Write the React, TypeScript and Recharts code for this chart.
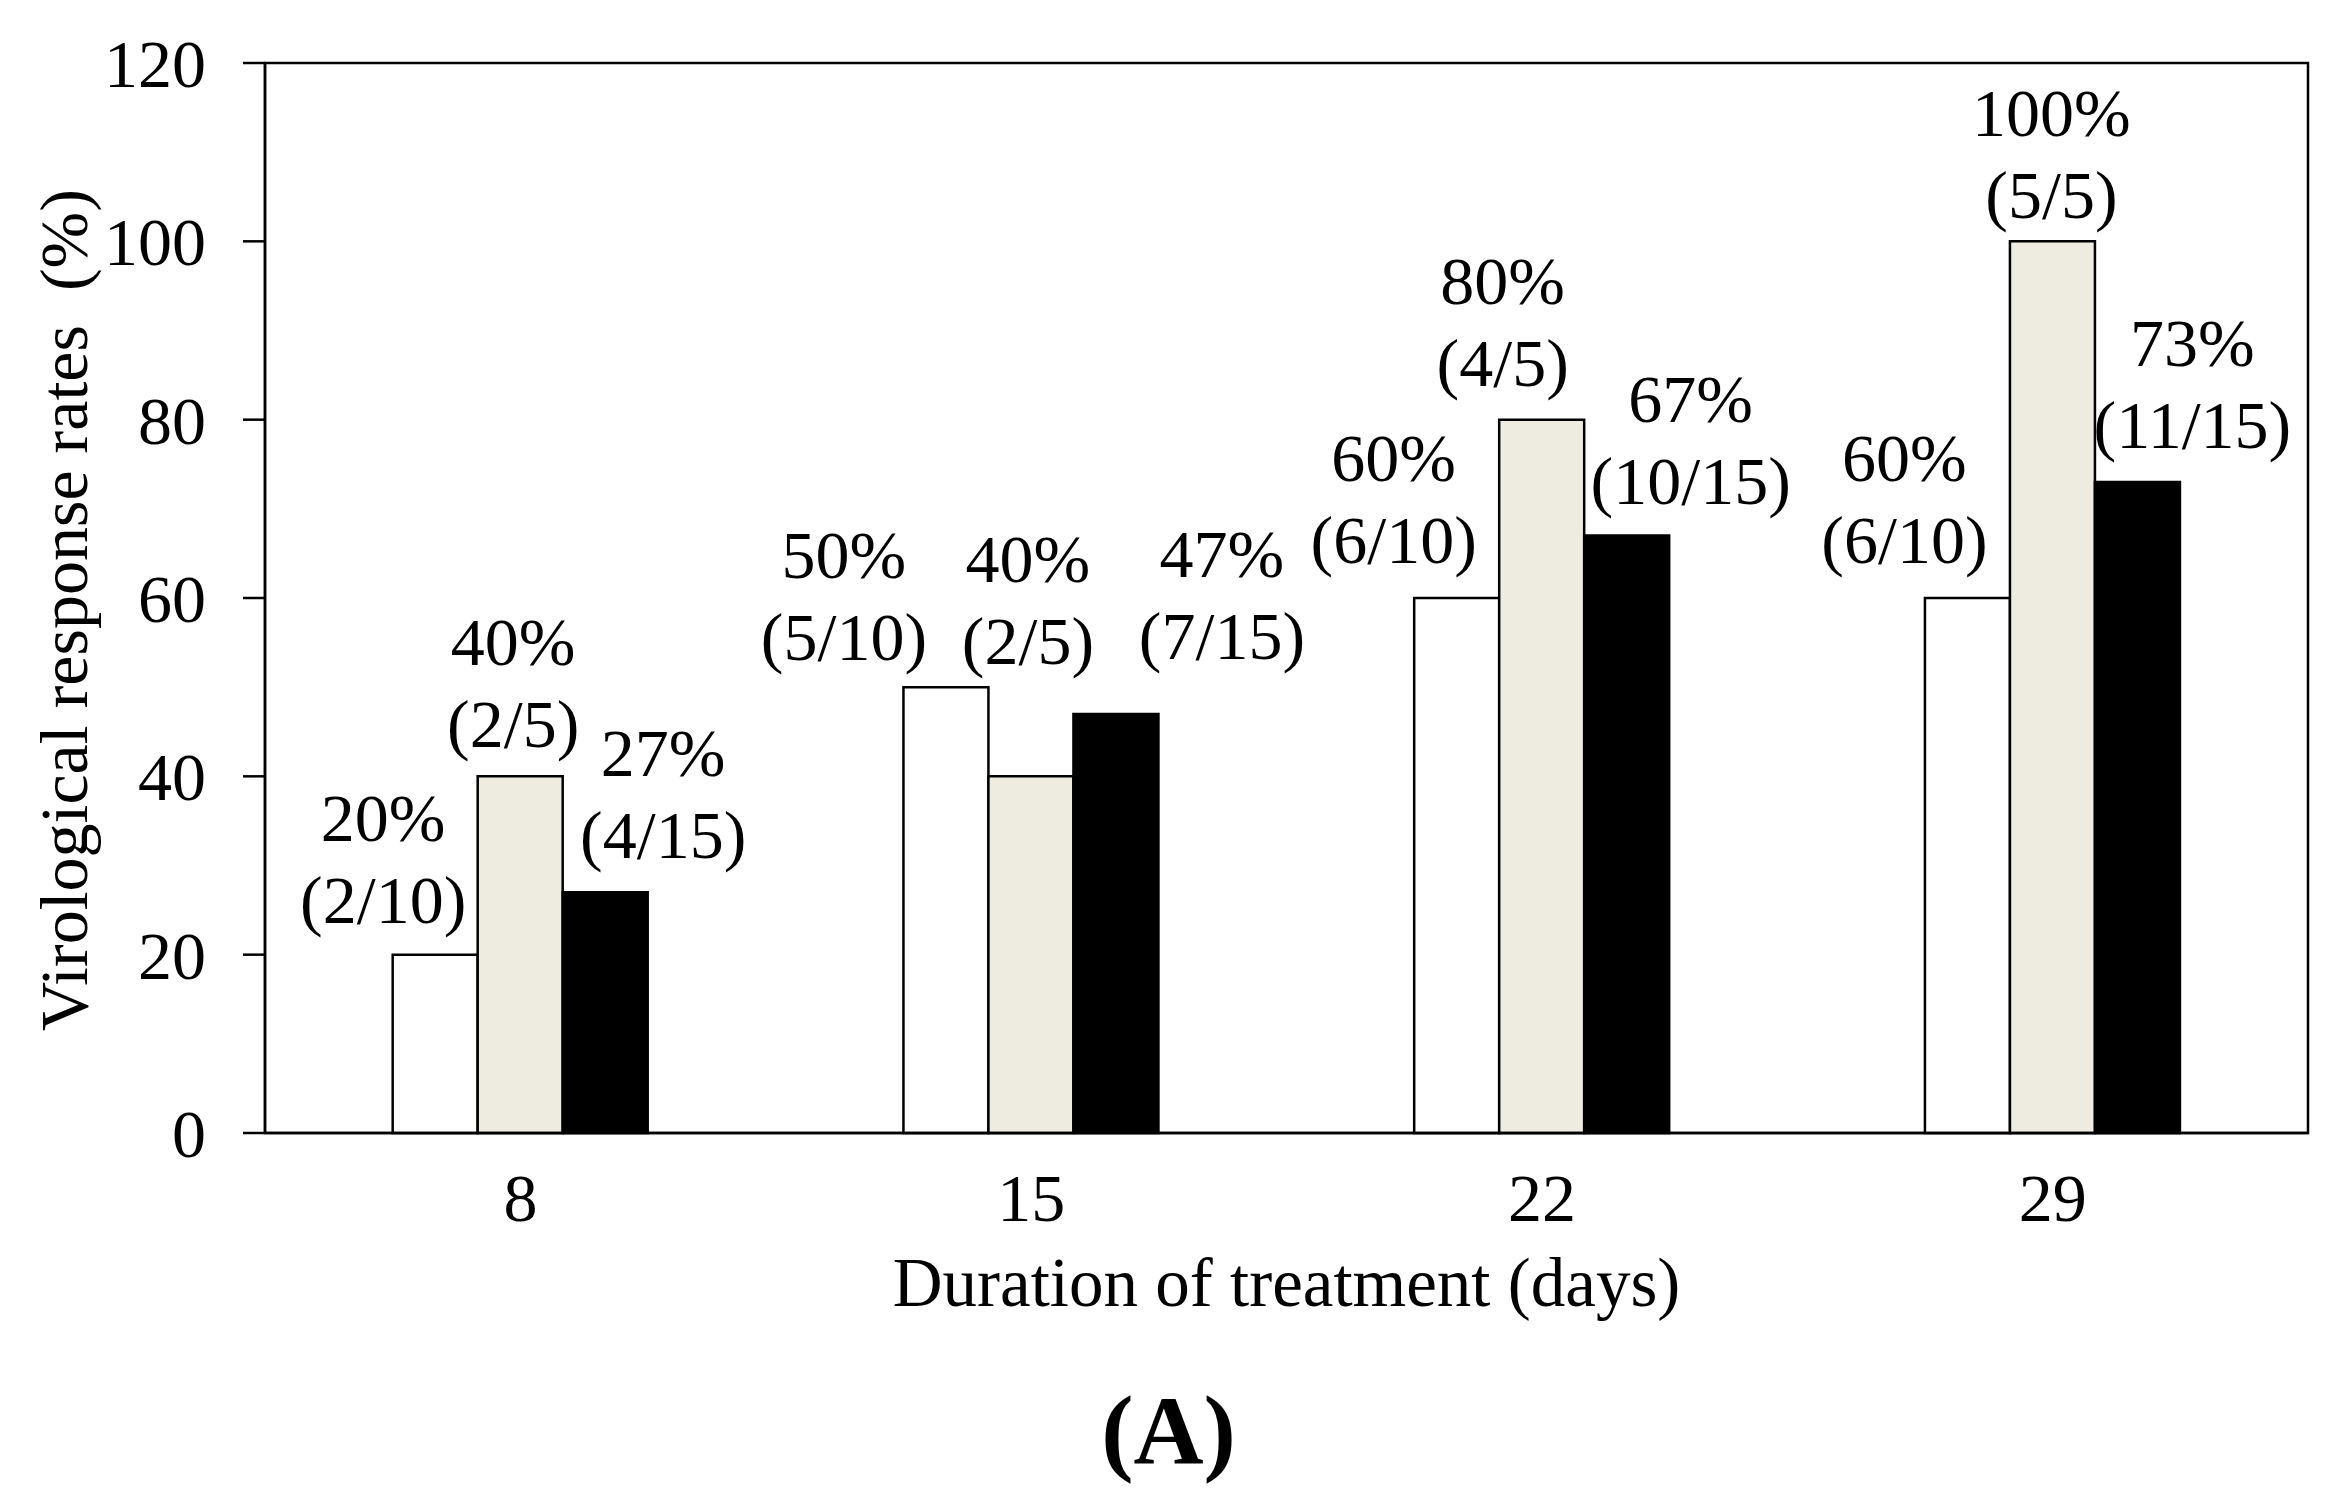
import React from 'react'
import { BarChart, Bar, XAxis, YAxis, LabelList, ReferenceArea } from 'recharts'

// Virological response rate by treatment duration, three groups per day.
const DAYS = ['8', '15', '22', '29']
const WHITE_RATES = [20, 50, 60, 60]
const BEIGE_RATES = [40, 40, 80, 100]
const BLACK_RATES = [27, 47, 67, 73]

const WHITE_PCT = ['20%', '50%', '60%', '60%']
const WHITE_FRAC = ['(2/10)', '(5/10)', '(6/10)', '(6/10)']
const BEIGE_PCT = ['40%', '40%', '80%', '100%']
const BEIGE_FRAC = ['(2/5)', '(2/5)', '(4/5)', '(5/5)']
const BLACK_PCT = ['27%', '47%', '67%', '73%']
const BLACK_FRAC = ['(4/15)', '(7/15)', '(10/15)', '(11/15)']

const Y_TICKS = [0, 20, 40, 60, 80, 100, 120]

const FONT = '"Liberation Serif", "Times New Roman", serif'

// label nudges (px) relative to the top centre of each bar, like the hand-placed Excel labels
const LABEL_DX = [
  [-52, -102, -63, -63],
  [-7, -3, -39, -1],
  [58, 106, 64, 55],
]
const LABEL_LIFT = [
  [55, 50, 58, 58],
  [52, 135, 57, 46],
  [57, 78, 55, 57],
]

const data = DAYS.map((d, i) => ({
  day: d,
  white: WHITE_RATES[i],
  beige: BEIGE_RATES[i],
  black: BLACK_RATES[i],
}))

const makeLabel = (series: number, pct: string[], frac: string[]) => (props: any) => {
  const { x, y, width, index } = props
  const cx = Number(x) + Number(width) / 2 + LABEL_DX[series][index]
  const y2 = Number(y) - LABEL_LIFT[series][index]
  const y1 = y2 - 82
  return (
    <g>
      <text x={cx} y={y1} textAnchor="middle" dominantBaseline="central" fontSize={68} fontFamily={FONT} fill="#000">
        {pct[index]}
      </text>
      <text x={cx} y={y2} textAnchor="middle" dominantBaseline="central" fontSize={68} fontFamily={FONT} fill="#000">
        {frac[index]}
      </text>
    </g>
  )
}

export default function App() {
  return (
    <div style={{ position: 'absolute', left: 0, top: 0, width: 2337, height: 1489, background: '#fff' }}>
      <BarChart
        width={2337}
        height={1489}
        data={data}
        margin={{ top: 63, right: 29, left: 0, bottom: 256 }}
        barCategoryGap="25%"
        barGap={0}
      >
        <XAxis
          dataKey="day"
          height={100}
          tickSize={0}
          tickMargin={40}
          axisLine={{ stroke: '#000', strokeWidth: 2.5 }}
          tick={{ fill: '#000', fontSize: 68, fontFamily: FONT }}
          label={{
            value: 'Duration of treatment (days)',
            position: 'bottom',
            offset: 24,
            style: { fill: '#000', fontSize: 69, fontFamily: FONT },
          }}
        />
        <YAxis
          domain={[0, 120]}
          ticks={Y_TICKS}
          width={265}
          tickSize={22}
          tickMargin={37}
          axisLine={{ stroke: '#000', strokeWidth: 2.5 }}
          tickLine={{ stroke: '#000', strokeWidth: 2.5 }}
          tick={{ fill: '#000', fontSize: 68, fontFamily: FONT }}
          label={{
            value: 'Virological response rates\u00a0 (%)',
            angle: -90,
            position: 'center',
            dx: -70,
            dy: 12,
            style: { fill: '#000', fontSize: 68, fontFamily: FONT },
          }}
        />
        <ReferenceArea y1={0} y2={120} fill="none" fillOpacity={0} stroke="#000" strokeWidth={2.5} />
        <Bar dataKey="white" fill="#ffffff" stroke="#000" strokeWidth={2.5} isAnimationActive={false}>
          <LabelList dataKey="white" content={makeLabel(0, WHITE_PCT, WHITE_FRAC)} />
        </Bar>
        <Bar dataKey="beige" fill="#eeebe0" stroke="#000" strokeWidth={2.5} isAnimationActive={false}>
          <LabelList dataKey="beige" content={makeLabel(1, BEIGE_PCT, BEIGE_FRAC)} />
        </Bar>
        <Bar dataKey="black" fill="#000000" stroke="#000" strokeWidth={2.5} isAnimationActive={false}>
          <LabelList dataKey="black" content={makeLabel(2, BLACK_PCT, BLACK_FRAC)} />
        </Bar>
      </BarChart>
      <div
        style={{
          position: 'absolute',
          left: 0,
          top: 1382,
          width: 2337,
          textAlign: 'center',
          fontFamily: FONT,
          fontWeight: 'bold',
          fontSize: 97,
          lineHeight: '97px',
          color: '#000',
        }}
      >
        (A)
      </div>
    </div>
  )
}
